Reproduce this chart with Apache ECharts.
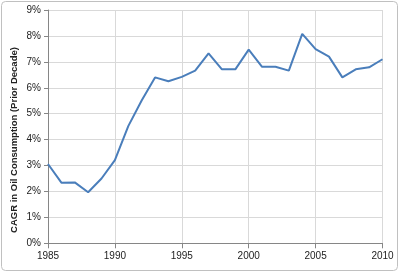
<!DOCTYPE html>
<html><head><meta charset="utf-8">
<script src="https://cdn.jsdelivr.net/npm/echarts@6/dist/echarts.min.js"></script>
<style>html,body{margin:0;padding:0;background:#fff}#c{width:400px;height:273px}</style>
</head><body><div id="c"></div>
<script>
var years = [1985,1986,1987,1988,1989,1990,1991,1992,1993,1994,1995,1996,1997,1998,1999,2000,2001,2002,2003,2004,2005,2006,2007,2008,2009,2010];
var cagr = [3.06,2.34,2.35,1.97,2.5,3.21,4.52,5.51,6.4,6.25,6.42,6.66,7.33,6.71,6.71,7.47,6.81,6.81,6.66,8.08,7.49,7.2,6.4,6.71,6.79,7.1];
var yAxisTitle = 'CAGR in Oil Consumption (Prior Decade)';
var data = years.map(function(y,i){return [y,cagr[i]];});
var chart = echarts.init(document.getElementById('c'), null, {renderer:'canvas'});
var font = 'Liberation Sans, Arial, sans-serif';
chart.setOption({
  animation:false,
  grid:{left:48,right:17.5,top:10,bottom:29.7,containLabel:false},
  xAxis:{type:'value',min:1985,max:2010,interval:5,
    axisLine:{show:true,lineStyle:{color:'#868686'}},
    axisTick:{show:true,length:5,lineStyle:{color:'#868686'}},
    splitLine:{show:true,lineStyle:{color:'#d9d9d9',width:1}},
    axisLabel:{color:'#222',fontFamily:font,fontSize:10,margin:8,formatter:function(v){return String(v);}}},
  yAxis:{type:'value',min:0,max:9,interval:1,
    axisLine:{show:true,lineStyle:{color:'#868686'}},
    axisTick:{show:true,length:4,lineStyle:{color:'#868686'}},
    splitLine:{show:true,lineStyle:{color:'#d9d9d9',width:1}},
    axisLabel:{color:'#222',fontFamily:font,fontSize:10,margin:7,formatter:'{value}%'}},
  graphic:[
    {type:'rect',shape:{x:1.5,y:1.5,width:396,height:269,r:4},style:{fill:'none',stroke:'#c0c0c0',lineWidth:1},silent:true},
    {type:'text',x:14,y:140,rotation:Math.PI/2,style:{text:yAxisTitle,fontFamily:font,fontSize:9.5,fontWeight:'bold',fill:'#222',align:'center',verticalAlign:'middle'}}
  ],
  series:[{type:'line',data:data,showSymbol:false,lineStyle:{color:'#4a7ebb',width:2},itemStyle:{color:'#4a7ebb'}}]
});
</script></body></html>
